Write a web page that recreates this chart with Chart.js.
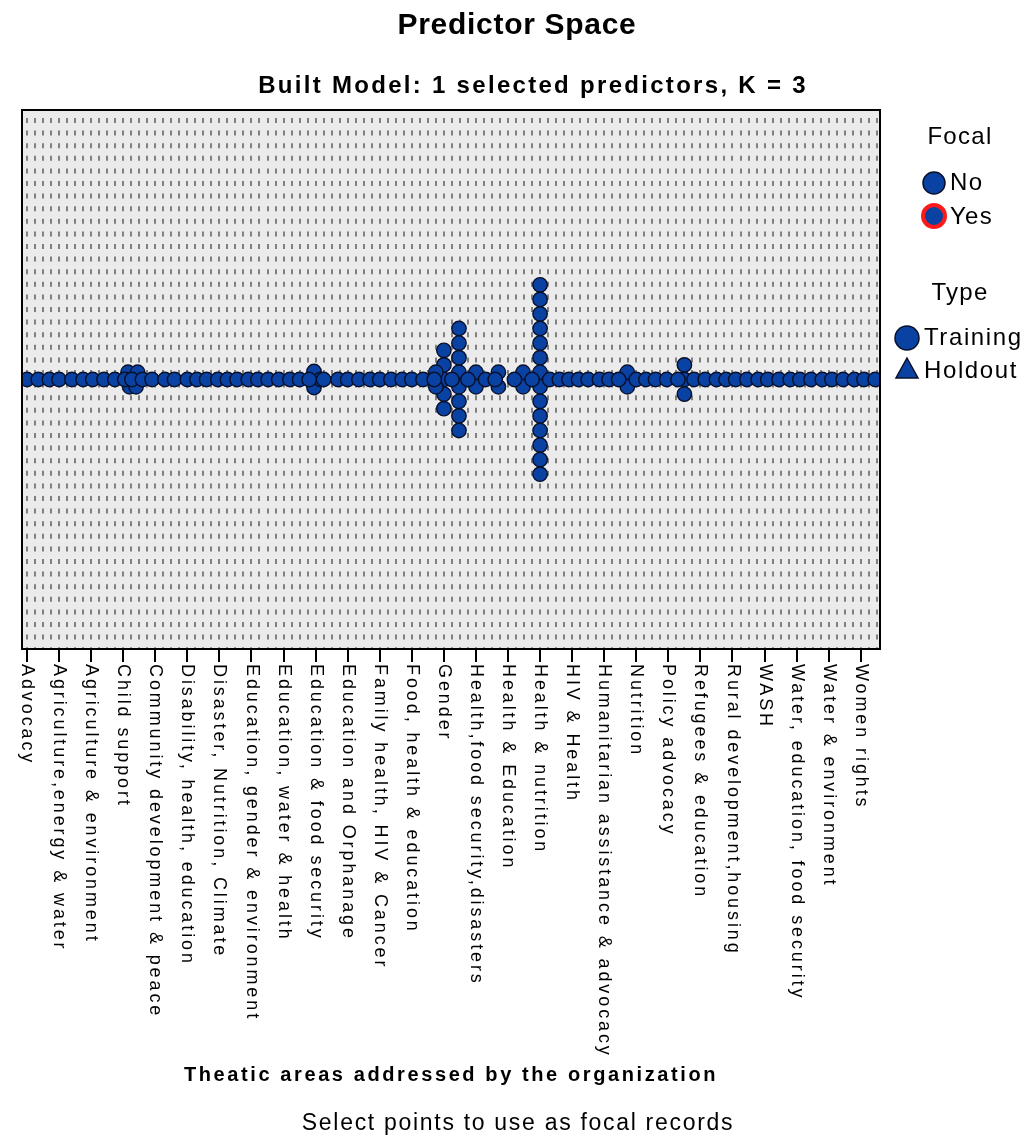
<!DOCTYPE html>
<html>
<head>
<meta charset="utf-8">
<script src="https://cdn.jsdelivr.net/npm/chart.js@4.4.1/dist/chart.umd.min.js"></script>
<style>
  html, body { margin: 0; padding: 0; background: #fff; }
</style>
</head>
<body>
<canvas id="predictorSpace" width="1031" height="1142"></canvas>
<script>
var categories = [
  "Advocacy",
  "Agriculture,energy & water",
  "Agriculture & environment",
  "Child support",
  "Community development & peace",
  "Disability, health, education",
  "Disaster, Nutrition, Climate",
  "Education, gender & environment",
  "Education, water & health",
  "Education & food security",
  "Education and Orphanage",
  "Family health, HIV & Cancer",
  "Food, health & education",
  "Gender",
  "Health,food security,disasters",
  "Health & Education",
  "Health & nutrition",
  "HIV & Health",
  "Humanitarian assistance & advocacy",
  "Nutrition",
  "Policy advocacy",
  "Refugees & education",
  "Rural development,housing",
  "WASH",
  "Water, education, food security",
  "Water & environment",
  "Women rights"
];

// records sitting on the centre line (category position)
var lineX = [0, 0.35, 0.7, 1.0, 1.4, 1.75, 2.05, 2.4, 2.74, 3.05, 3.27, 3.6, 3.9, 4.3,
  4.6, 5.0, 5.3, 5.6, 5.95, 6.25, 6.55, 6.9, 7.2, 7.52, 7.85, 8.2, 8.5, 8.8, 9.25, 9.7,
  10.0, 10.35, 10.7, 11.0, 11.35, 11.7, 12.0, 12.35, 12.7, 13.25, 13.75, 14.3, 14.6,
  15.2, 15.75, 16.3, 16.6, 16.9, 17.2, 17.5, 17.85, 18.15, 18.45, 19.0, 19.3, 19.6,
  19.95, 20.3, 20.8, 21.15, 21.5, 21.8, 22.1, 22.45, 22.8, 23.1, 23.45, 23.8, 24.1,
  24.45, 24.8, 25.1, 25.45, 25.8, 26.1, 26.45];

// stacked records (category position, stack offset)
var stackX = [3.15, 3.45, 3.2, 3.4,
  8.95, 8.95, 9.15,
  13, 13, 13, 13, 13, 12.75, 12.75,
  13.47, 13.47, 13.47, 13.47, 13.47, 13.47, 13.47, 13.47,
  14, 14, 14.7, 14.7, 15.47, 15.47,
  16, 16, 16, 16, 16, 16, 16, 16, 16, 16, 16, 16, 16, 16,
  18.72, 18.72,
  20.5, 20.5, 20.5];
var stackY = [0.5, 0.5, -0.5, -0.5,
  0.55, -0.55, 0,
  2, 1, 0, -1, -2, 0.5, -0.5,
  3.5, 2.5, 1.5, 0.5, -0.5, -1.5, -2.5, -3.5,
  0.5, -0.5, 0.5, -0.5, 0.5, -0.5,
  6.5, 5.5, 4.5, 3.5, 2.5, 1.5, 0.5, -0.5, -1.5, -2.5, -3.5, -4.5, -5.5, -6.5,
  0.5, -0.5,
  1, 0, -1];

var dotFill = "#0a42a4";
var dotEdge = "#08102a";
var font = "'Liberation Sans', Arial, sans-serif";

function txt(ctx, s, x, y, f, spacing, align) {
  ctx.save();
  ctx.font = f;
  ctx.letterSpacing = spacing + "px";
  ctx.fillStyle = "#000";
  ctx.textAlign = align || "center";
  ctx.textBaseline = "middle";
  ctx.fillText(s, x, y);
  ctx.restore();
}

var decor = {
  id: "decor",
  beforeDraw: function (chart) {
    var ctx = chart.ctx, a = chart.chartArea;
    ctx.save();
    ctx.fillStyle = "#fff";
    ctx.fillRect(0, 0, chart.width, chart.height);
    ctx.fillStyle = "#ebebeb";
    ctx.fillRect(a.left, a.top, a.right - a.left, a.bottom - a.top);
    ctx.restore();
  },
  afterDraw: function (chart) {
    var ctx = chart.ctx, a = chart.chartArea, xs = chart.scales.x;
    ctx.save();
    ctx.strokeStyle = "#000";
    ctx.lineWidth = 2;
    ctx.strokeRect(a.left, a.top, a.right - a.left, a.bottom - a.top);
    ctx.restore();

    // rotated category labels
    categories.forEach(function (c, i) {
      var x = xs.getPixelForValue(i);
      ctx.save();
      ctx.translate(x, a.bottom + 15);
      ctx.rotate(Math.PI / 2);
      ctx.font = "18px " + font;
      ctx.letterSpacing = "2.9px";
      ctx.fillStyle = "#000";
      ctx.textAlign = "left";
      ctx.textBaseline = "middle";
      ctx.fillText(c, 0, 0);
      ctx.restore();
    });

    txt(ctx, "Predictor Space", 517, 26, "bold 30px " + font, 0.7);
    txt(ctx, "Built Model: 1 selected predictors, K = 3", 533, 86, "bold 24px " + font, 2.3);
    txt(ctx, "Theatic areas addressed by the organization", 451, 1075, "bold 20px " + font, 2.6);
    txt(ctx, "Select points to use as focal records", 518, 1124, "23px " + font, 1.7);

    // legend
    var lf = "24px " + font;
    txt(ctx, "Focal", 960, 137, lf, 1.3);
    txt(ctx, "No", 950, 183, lf, 1.3, "left");
    txt(ctx, "Yes", 950, 217, lf, 1.3, "left");
    txt(ctx, "Type", 960, 293, lf, 1.3);
    txt(ctx, "Training", 924, 338, lf, 1.6, "left");
    txt(ctx, "Holdout", 924, 371, lf, 1.6, "left");

    ctx.save();
    ctx.fillStyle = dotFill;
    ctx.strokeStyle = dotEdge;
    ctx.lineWidth = 1.5;
    ctx.beginPath(); ctx.arc(934, 183, 11, 0, Math.PI * 2); ctx.fill(); ctx.stroke();
    ctx.beginPath(); ctx.arc(934, 216, 11, 0, Math.PI * 2); ctx.fill();
    ctx.strokeStyle = "#ff1a1a"; ctx.lineWidth = 4; ctx.stroke();
    ctx.strokeStyle = dotEdge; ctx.lineWidth = 1.5;
    ctx.beginPath(); ctx.arc(907, 338, 12, 0, Math.PI * 2); ctx.fill(); ctx.stroke();
    ctx.beginPath(); ctx.moveTo(907, 358); ctx.lineTo(918, 378); ctx.lineTo(896, 378); ctx.closePath();
    ctx.fill(); ctx.stroke();
    ctx.restore();
  }
};

var xMin = -0.156, xMax = 26.6;

new Chart(document.getElementById("predictorSpace"), {
  type: "scatter",
  data: {
    datasets: [
      {
        label: "line",
        data: lineX.map(function (x) { return { x: x, y: 0 }; }),
        backgroundColor: dotFill,
        borderColor: dotEdge,
        borderWidth: 1.4,
        pointRadius: 7.2,
        clip: 0
      },
      {
        label: "stacks",
        data: stackX.map(function (x, i) { return { x: x, y: stackY[i] }; }),
        backgroundColor: dotFill,
        borderColor: dotEdge,
        borderWidth: 1.4,
        pointRadius: 7.2,
        clip: 0
      }
    ]
  },
  options: {
    responsive: false,
    animation: false,
    events: [],
    layout: { padding: { left: 22, right: 151, top: 110, bottom: 0 } },
    plugins: { legend: { display: false }, tooltip: { enabled: false } },
    scales: {
      x: {
        type: "linear",
        min: xMin,
        max: xMax,
        afterBuildTicks: function (s) {
          s.ticks = categories.map(function (c, i) { return { value: i }; });
        },
        afterFit: function (s) { s.height = 493; },
        ticks: { display: false },
        grid: { drawOnChartArea: false, drawTicks: true, tickLength: 13, color: "#000", lineWidth: 2 },
        border: { display: true, color: "#000", width: 2 }
      },
      xGrid: {
        type: "linear",
        position: "bottom",
        min: xMin,
        max: xMax,
        afterBuildTicks: function (s) {
          var t = [];
          for (var v = 0; v <= xMax; v += 0.25) t.push({ value: v });
          s.ticks = t;
        },
        afterFit: function (s) { s.height = 0; },
        ticks: { display: false },
        grid: { drawOnChartArea: true, drawTicks: false, color: "#808080", lineWidth: 2 },
        border: { display: false, dash: [5, 7.6], dashOffset: 4.6 }
      },
      y: {
        type: "linear",
        min: -18.5,
        max: 18.5,
        display: false
      }
    }
  },
  plugins: [decor]
});
</script>
</body>
</html>
